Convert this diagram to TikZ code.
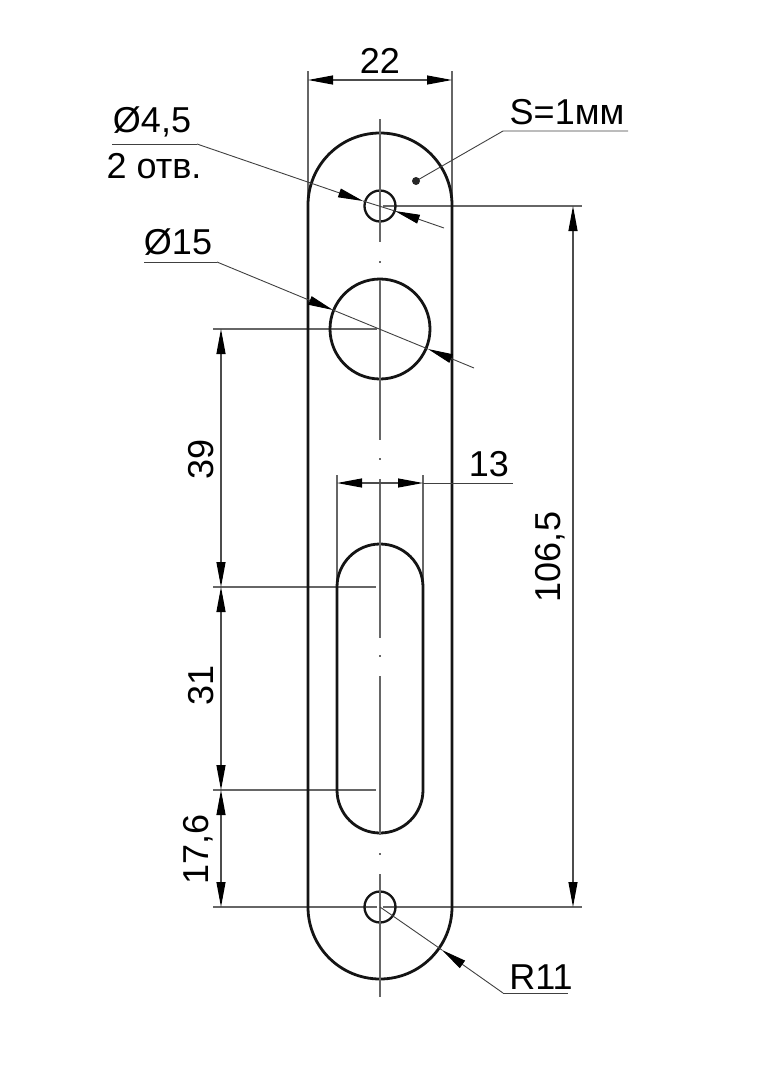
\documentclass[tikz,border=0pt]{standalone}
\usepackage{fontspec}
\setmainfont{Liberation Sans}
\usetikzlibrary{arrows.meta}
\tikzset{
  outline/.style={draw=black!92,line width=2.8pt},
  thin line/.style={draw=black!60,line width=1.3pt},
  lead line/.style={draw=black!75,line width=0.9pt},
  headtip/.tip={Triangle[length=25pt,width=9pt,color=black,fill=black]},
  dim/.style={draw=black!70,line width=1.1pt,headtip-headtip},
  tipend/.style={draw=black!75,line width=0.9pt,-headtip},
  lbl/.style={font=\fontsize{36}{36}\selectfont,text=black,inner sep=0pt}
}
\begin{document}
\begin{tikzpicture}[x=1pt,y=-1pt]
\useasboundingbox (0,0) rectangle (763,1080);
% extension lines
\draw[thin line] (308,71) -- (308,205);
\draw[thin line] (452,71) -- (452,205);
\draw[thin line] (383,206) -- (582,206);
\draw[thin line] (213,907) -- (377,907);
\draw[thin line] (383,907) -- (582,907);
\draw[thin line] (213,329) -- (377,329);
\draw[thin line] (213,587) -- (376,587);
\draw[thin line] (213,790) -- (376,790);
\draw[thin line] (337,475) -- (337,587);
\draw[thin line] (423,475) -- (423,587);
% plate
\draw[outline] (308,205) arc[start angle=180,end angle=360,radius=72] -- (452,907) arc[start angle=0,end angle=180,radius=72] -- cycle;
% holes
\draw[outline,line width=2.3pt] (380,206) circle (15.5);
\draw[outline,line width=2.3pt] (380,907) circle (15.5);
\draw[outline] (380,329) circle (50);
\draw[outline] (337,587) arc[start angle=180,end angle=360,radius=43] -- (423,790) arc[start angle=0,end angle=180,radius=43] -- cycle;
% centre line
\draw[thin line] (380,119) -- (380,242);
\draw[thin line] (380,261) -- (380,263);
\draw[thin line] (380,280) -- (380,440);
\draw[thin line] (380,458) -- (380,460);
\draw[thin line] (380,479) -- (380,638);
\draw[thin line] (380,655) -- (380,657);
\draw[thin line] (380,676) -- (380,835);
\draw[thin line] (380,853) -- (380,855);
\draw[thin line] (380,874) -- (380,997);
% dimensions
\draw[dim] (308,80) -- (452,80);
\draw[dim] (573,206) -- (573,907);
\draw[dim] (221,329) -- (221,587);
\draw[dim] (221,587) -- (221,790);
\draw[dim] (221,790) -- (221,907);
\draw[dim] (337,483) -- (423,483);
\draw[lead line] (423,483) -- (513,483);
% leaders
\draw[lead line] (112,144) -- (197,144);
\draw[tipend] (197,144) -- (363,201);
\draw[tipend] (444,228) -- (395,211);
\draw[lead line] (363,201) -- (395,211);
\draw[lead line] (144,262) -- (217,262);
\draw[tipend] (217,262) -- (333,310);
\draw[tipend] (474,368) -- (428,349);
\draw[lead line] (333,310) -- (428,349);
\draw[lead line] (628,131) -- (503,131) -- (416,181);
\fill[black!85] (416,181) circle (4);
\draw[tipend] (503,993) -- (442,950);
\draw[lead line] (380,907) -- (442,950);
\draw[lead line] (503,993) -- (568,993);
% labels
\node[lbl] (d22) at (380,61) {22};
\node[lbl] (d45) at (152,121.5) {Ø4,5};
\node[lbl] (d2o) at (154,166) {2 отв.};
\node[lbl] (ds) at (567,112) {S=1мм};
\node[lbl] (d15) at (178,242) {Ø15};
\node[lbl] (d13) at (489,464) {13};
\node[lbl,rotate=90] (d39) at (201,459) {39};
\node[lbl,rotate=90] (d31) at (201,685) {31};
\node[lbl,rotate=90] (d176) at (198,849) {17,6};
\node[lbl,rotate=90] (d1065) at (550,557) {106,5};
\node[lbl] (dr) at (541,977) {R11};
\end{tikzpicture}
\end{document}
